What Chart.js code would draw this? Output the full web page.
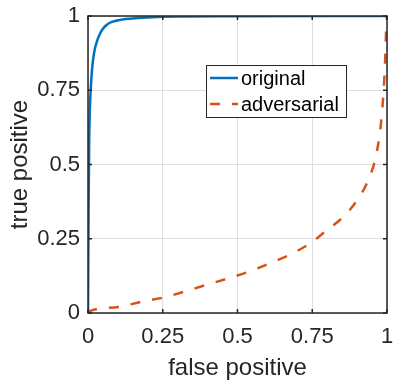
<!DOCTYPE html>
<html lang="en">
<head>
    <meta charset="UTF-8">
    <title>ROC curves</title>
    <script src="https://cdn.jsdelivr.net/npm/chart.js"></script>
    <style>
        body { margin: 0; background: #fff; }
        canvas { display: block; }
    </style>
</head>
<body>
    <canvas id="roc" width="399" height="389"></canvas>

    <script>
        // ROC data
        const fprOriginal = [0, 0.002, 0.004, 0.006, 0.009, 0.012, 0.016, 0.022, 0.03, 0.04, 0.05, 0.062, 0.08, 0.107, 0.14, 0.2, 0.3, 0.5, 1];
        const tprOriginal = [0, 0.35, 0.58, 0.68, 0.75, 0.8, 0.845, 0.885, 0.915, 0.94, 0.957, 0.97, 0.98, 0.987, 0.991, 0.995, 0.998, 0.999, 1];

        const fprAdversarial = [0, 0.01, 0.1, 0.18, 0.26, 0.325, 0.397, 0.47, 0.54, 0.61, 0.675, 0.748, 0.8, 0.854, 0.9, 0.9375, 0.965, 0.982, 0.993, 0.997, 1];
        const tprAdversarial = [0, 0.008, 0.02, 0.038, 0.054, 0.073, 0.095, 0.117, 0.14, 0.168, 0.196, 0.238, 0.28, 0.324, 0.38, 0.448, 0.538, 0.661, 0.83, 0.95, 1];

        const tickValues = [0, 0.25, 0.5, 0.75, 1];
        const tickLabels = ['0', '0.25', '0.5', '0.75', '1'];

        const seriesNames = ['original', 'adversarial'];

        const toPoints = (xs, ys) => xs.map((x, i) => ({ x: x, y: ys[i] }));
        const labelFor = v => tickLabels[tickValues.indexOf(Math.round(v * 100) / 100)] ?? '';

        Chart.defaults.font.family = '"Liberation Sans", Arial, Helvetica, sans-serif';
        Chart.defaults.color = '#262626';

        const axisColor = '#262626';

        // box, inward ticks and the in-axes legend (MATLAB look)
        const matlabAxes = {
            id: 'matlabAxes',
            afterDraw(chart) {
                const { ctx, chartArea: a, scales } = chart;
                ctx.save();
                ctx.strokeStyle = axisColor;
                ctx.lineWidth = 1.5;
                ctx.strokeRect(a.left, a.top, a.right - a.left, a.bottom - a.top);

                const len = 4;
                ctx.beginPath();
                tickValues.forEach(v => {
                    const px = scales.x.getPixelForValue(v);
                    ctx.moveTo(px, a.bottom); ctx.lineTo(px, a.bottom - len);
                    ctx.moveTo(px, a.top); ctx.lineTo(px, a.top + len);
                    const py = scales.y.getPixelForValue(v);
                    ctx.moveTo(a.left, py); ctx.lineTo(a.left + len, py);
                    ctx.moveTo(a.right, py); ctx.lineTo(a.right - len, py);
                });
                ctx.stroke();

                // legend
                const bx = 206, by = 65, bw = 140, bh = 52;
                ctx.fillStyle = '#fff';
                ctx.fillRect(bx, by, bw, bh);
                ctx.lineWidth = 1;
                ctx.strokeStyle = axisColor;
                ctx.strokeRect(bx + 0.5, by + 0.5, bw, bh);

                ctx.font = '20px "Liberation Sans", Arial, sans-serif';
                ctx.textBaseline = 'middle';
                ctx.textAlign = 'left';
                chart.data.datasets.forEach((ds, i) => {
                    const yRow = by + 13 + i * 26;
                    ctx.beginPath();
                    ctx.strokeStyle = ds.borderColor;
                    ctx.lineWidth = ds.borderWidth;
                    ctx.setLineDash(ds.borderDash || []);
                    ctx.moveTo(bx + 4, yRow);
                    ctx.lineTo(bx + 32, yRow);
                    ctx.stroke();
                    ctx.setLineDash([]);
                    ctx.fillStyle = '#000';
                    ctx.fillText(ds.label, bx + 35, yRow + 1);
                });
                ctx.restore();
            }
        };

        new Chart(document.getElementById('roc').getContext('2d'), {
            type: 'line',
            data: {
                datasets: [{
                    label: seriesNames[0],
                    data: toPoints(fprOriginal, tprOriginal),
                    borderColor: '#0072BD',
                    borderWidth: 2.5,
                    pointRadius: 0,
                    fill: false,
                    cubicInterpolationMode: 'monotone'
                }, {
                    label: seriesNames[1],
                    data: toPoints(fprAdversarial, tprAdversarial),
                    borderColor: '#D95319',
                    borderWidth: 2.5,
                    borderDash: [10, 12],
                    borderCapStyle: 'butt',
                    pointRadius: 0,
                    fill: false,
                    cubicInterpolationMode: 'monotone'
                }]
            },
            options: {
                responsive: false,
                animation: false,
                layout: { padding: { top: 16, right: 12, left: 0, bottom: 0 } },
                plugins: {
                    legend: { display: false },
                    tooltip: { enabled: false }
                },
                scales: {
                    x: {
                        type: 'linear',
                        min: 0,
                        max: 1,
                        afterBuildTicks: s => { s.ticks = tickValues.map(v => ({ value: v })); },
                        afterFit: s => { s.height = 76; s.paddingLeft = 0; s.paddingRight = 0; },
                        ticks: {
                            callback: v => labelFor(v),
                            font: { size: 22 },
                            padding: 11,
                            maxRotation: 0
                        },
                        grid: { color: '#dedede', lineWidth: 1, drawTicks: false },
                        border: { display: false },
                        title: {
                            display: true,
                            text: 'false positive',
                            font: { size: 24 },
                            padding: { top: 6, bottom: 6 }
                        }
                    },
                    y: {
                        type: 'linear',
                        min: 0,
                        max: 1,
                        afterBuildTicks: s => { s.ticks = tickValues.map(v => ({ value: v })); },
                        afterFit: s => { s.width = 88; s.paddingTop = 0; s.paddingBottom = 0; },
                        ticks: {
                            callback: v => labelFor(v),
                            font: { size: 22 },
                            padding: 8
                        },
                        grid: { color: '#dedede', lineWidth: 1, drawTicks: false },
                        border: { display: false },
                        title: {
                            display: true,
                            text: 'true positive',
                            font: { size: 24 },
                            padding: { top: 6, bottom: 6 }
                        }
                    }
                }
            },
            plugins: [matlabAxes]
        });
    </script>
</body>
</html>
